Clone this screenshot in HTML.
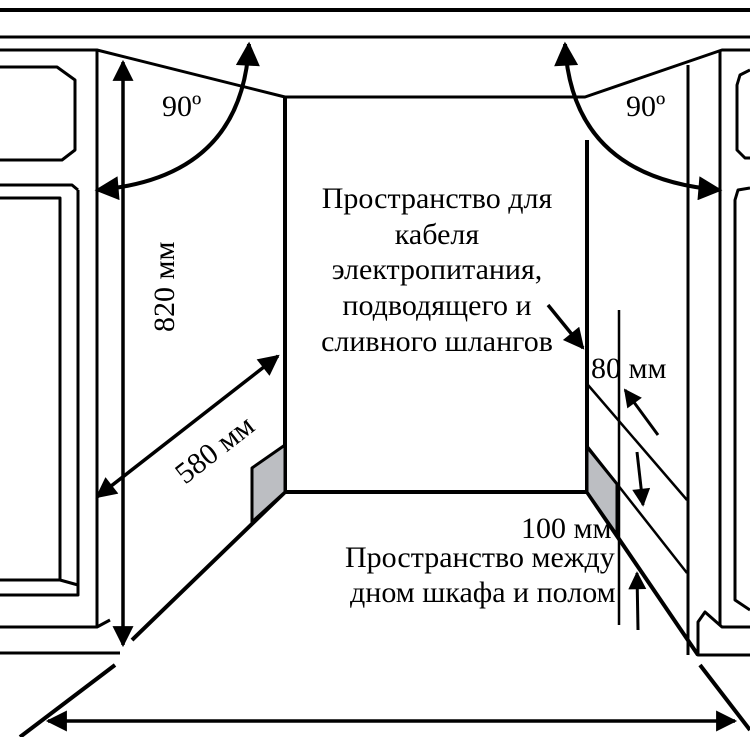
<!DOCTYPE html>
<html><head><meta charset="utf-8"><style>
html,body{margin:0;padding:0;background:#fff;width:750px;height:737px;overflow:hidden}
svg{display:block}
text{font-family:"Liberation Serif",serif;fill:#000}
</style></head><body>
<svg width="750" height="737" viewBox="0 0 750 737" xmlns="http://www.w3.org/2000/svg">
<defs>
<marker id="ah" viewBox="0 0 10 10" refX="9" refY="5" markerWidth="7" markerHeight="6" orient="auto-start-reverse" markerUnits="strokeWidth">
<path d="M0,0 L10,5 L0,10 z" fill="#000"/></marker>
</defs>
<g fill="none" stroke="#000" stroke-linejoin="round">
<line x1="0" y1="10" x2="750" y2="10" stroke-width="4"/>
<line x1="0" y1="37" x2="750" y2="37" stroke-width="3"/>
<path d="M0,50 L97,50 L285,97 L585,97 L722,50 L750,50" stroke-width="3"/>
<path d="M285,97 L285,492 L587,492 L587,140" stroke-width="4"/>
<line x1="97" y1="50" x2="97" y2="627" stroke-width="3"/>
<line x1="78" y1="190" x2="78" y2="585" stroke-width="3"/>
<path d="M0,67 L57,67 L75,80 L75,150 L62,160 L0,160" stroke-width="3"/>
<path d="M0,185 L72,185 L78,190" stroke-width="3"/>
<path d="M0,198 L60,198 L60,580 L0,580 M60,580 L78,585" stroke-width="3"/>
<path d="M0,595 L78,595 L78,585" stroke-width="3"/>
<path d="M0,627 L97,627 L110,620" stroke-width="3"/>
<path d="M0,653 L120,653" stroke-width="3"/>
<line x1="285" y1="492" x2="132" y2="640" stroke-width="4"/>
<line x1="115" y1="665" x2="20" y2="737" stroke-width="4"/>
<line x1="587" y1="492" x2="698" y2="655" stroke-width="4"/>
<line x1="700" y1="665" x2="750" y2="730" stroke-width="4"/>
<polygon points="252,468 285,445 285,492 252,522" fill="#bcbec2" stroke-width="3"/>
<polygon points="587,447 617,484 617,535 587,492" fill="#bcbec2" stroke-width="3"/>
<line x1="619" y1="310" x2="619" y2="625" stroke-width="2.5"/>
<line x1="688" y1="65" x2="688" y2="655" stroke-width="3"/>
<line x1="720" y1="50" x2="720" y2="625" stroke-width="3"/>
<line x1="588" y1="385" x2="687" y2="500" stroke-width="2.5"/>
<line x1="588" y1="447" x2="687" y2="573" stroke-width="2.5"/>
<path d="M750,188 L738,190 L735,200 L735,600 L750,610" stroke-width="3"/>
<path d="M750,70 L740,75 L737,85 L737,150 L745,158 L750,158" stroke-width="3"/>
<path d="M750,627 L722,627 L705,612 L698,622 L698,655 L750,655" stroke-width="3"/>
<line x1="123" y1="62" x2="123" y2="645" stroke-width="3.5" marker-start="url(#ah)" marker-end="url(#ah)"/>
<line x1="278" y1="356" x2="97" y2="497" stroke-width="3.5" marker-start="url(#ah)" marker-end="url(#ah)"/>
<line x1="48" y1="721" x2="735" y2="721" stroke-width="3.5" marker-start="url(#ah)" marker-end="url(#ah)"/>
<path d="M249,44 Q242,178 97,190" stroke-width="4" marker-start="url(#ah)" marker-end="url(#ah)"/>
<path d="M565,44 Q572,178 720,190" stroke-width="4" marker-start="url(#ah)" marker-end="url(#ah)"/>
<line x1="548" y1="305" x2="583" y2="348" stroke-width="3.5" marker-end="url(#ah)"/>
<line x1="658" y1="435" x2="625" y2="390" stroke-width="3" marker-end="url(#ah)"/>
<line x1="637" y1="452" x2="643" y2="505" stroke-width="3" marker-end="url(#ah)"/>
<line x1="638" y1="630" x2="637" y2="573" stroke-width="3" marker-end="url(#ah)"/>
</g>
<rect x="158" y="86" width="58" height="34" fill="#fff"/>
<text x="162" y="116" font-size="30">90º</text>
<rect x="622" y="86" width="58" height="34" fill="#fff"/>
<text x="626" y="116" font-size="30">90º</text>
<text transform="translate(174,332) rotate(-90)" font-size="30">820 мм</text>
<text transform="translate(185,485) rotate(-38)" font-size="30">580 мм</text>
<g font-size="30" text-anchor="middle">
<text x="437" y="208">Пространство для</text>
<text x="437" y="244">кабеля</text>
<text x="437" y="279">электропитания,</text>
<text x="437" y="315">подводящего и</text>
<text x="437" y="351">сливного шлангов</text>
</g>
<text x="591" y="378" font-size="30">80 мм</text>
<text x="521" y="538" font-size="30">100 мм</text>
<text x="345" y="567" font-size="30">Пространство между</text>
<text x="350" y="602" font-size="30">дном шкафа и полом</text>
</svg>
</body></html>
